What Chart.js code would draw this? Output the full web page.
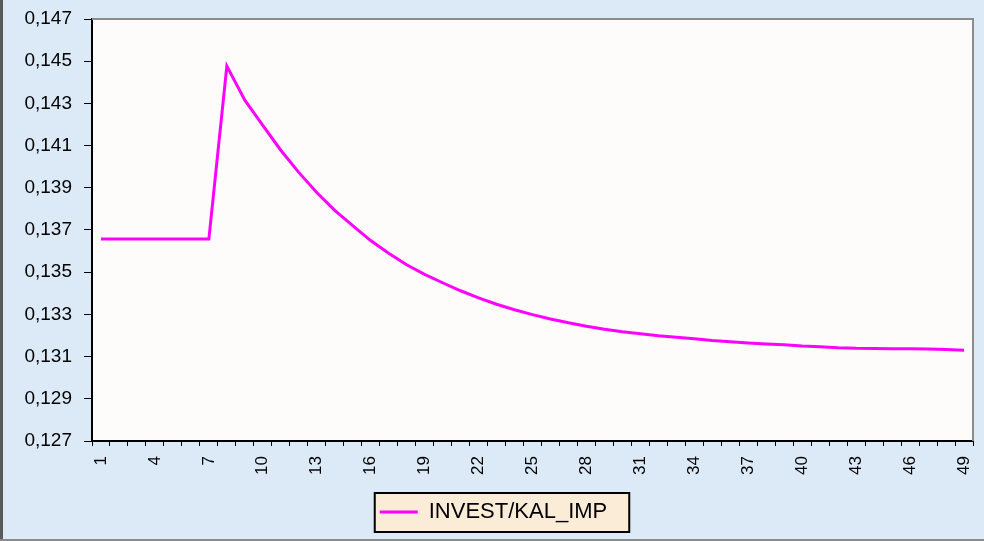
<!DOCTYPE html>
<html>
<head>
<meta charset="utf-8">
<script src="https://cdn.jsdelivr.net/npm/chart.js@4/dist/chart.umd.min.js"></script>
<style>
  html, body { margin: 0; padding: 0; background: #dceaf8; }
  #wrap { width: 984px; height: 541px; }
</style>
</head>
<body>
<div id="wrap"><canvas id="my_chart" width="984" height="541"></canvas></div>
<script>
// periods 1..49
const categories = [];
for (let i = 1; i <= 49; i++) categories.push(String(i));

// INVEST/KAL_IMP series
const investKalImp = [
  0.13657, 0.13657, 0.13657, 0.13657, 0.13657, 0.13657, 0.13657,
  0.14477, 0.14315, 0.14196, 0.14078, 0.13973, 0.13878, 0.13793,
  0.13721, 0.13650, 0.13590, 0.13535, 0.13490, 0.13450, 0.13412,
  0.13378, 0.13348, 0.13322, 0.13299, 0.13278, 0.13260, 0.13244,
  0.13230, 0.13218, 0.13208, 0.13199, 0.13192, 0.13185, 0.13176,
  0.13170, 0.13165, 0.13160, 0.13156, 0.13150, 0.13147, 0.13142,
  0.13139, 0.13138, 0.13137, 0.13137, 0.13136, 0.13134, 0.13130
];

// y axis tick values
const yTickValues = [0.127, 0.129, 0.131, 0.133, 0.135, 0.137, 0.139, 0.141, 0.143, 0.145, 0.147];

Chart.defaults.font.family = "'Liberation Sans', Arial, sans-serif";
Chart.defaults.color = '#000';

// background, plot area, frame and legend box
const decor = {
  id: 'decor',
  afterLayout(chart) {
    // legend sits a little right of centre in the original
    const lg = chart.legend, dx = 7;
    lg.left += dx; lg.right += dx;
    lg.legendHitBoxes.forEach(h => { h.left += dx; });
  },
  beforeDraw(chart) {
    const {ctx, chartArea: a, width, height} = chart;
    ctx.save();
    ctx.fillStyle = '#dceaf8';
    ctx.fillRect(0, 0, width, height);
    ctx.fillStyle = '#fdfcfb';
    ctx.fillRect(a.left, a.top, a.right - a.left, a.bottom - a.top);
    // legend box
    const h = chart.legend.legendHitBoxes[0];
    if (h) {
      const x0 = h.left - 5, y0 = h.top - 8;
      const w = h.width + 27, hh = h.height + 17;
      ctx.fillStyle = '#fbecd8';
      ctx.fillRect(x0, y0, w, hh);
      ctx.strokeStyle = '#000';
      ctx.lineWidth = 2;
      ctx.strokeRect(x0, y0, w, hh);
    }
    // outer frame edges
    ctx.fillStyle = '#5a5a5a';
    ctx.fillRect(0, 0, 3, height);
    ctx.fillStyle = '#8a8a8a';
    ctx.fillRect(0, height - 2, width, 2);
    ctx.restore();
  },
  afterDraw(chart) {
    const {ctx, chartArea: a} = chart;
    ctx.save();
    ctx.strokeStyle = '#8c8c8c';
    ctx.lineWidth = 2;
    ctx.beginPath();
    ctx.moveTo(a.left, a.top);
    ctx.lineTo(a.right, a.top);
    ctx.lineTo(a.right, a.bottom);
    ctx.stroke();
    ctx.restore();
  }
};

const ctx = document.getElementById('my_chart').getContext('2d');
new Chart(ctx, {
  type: 'line',
  data: {
    labels: categories,
    datasets: [{
      label: 'INVEST/KAL_IMP',
      data: investKalImp,
      borderColor: '#ff00ff',
      backgroundColor: '#ff00ff',
      borderWidth: 3,
      pointRadius: 0,
      tension: 0,
      fill: false
    }]
  },
  options: {
    responsive: false,
    animation: false,
    layout: { padding: { top: 19, right: 11, left: 0, bottom: 8 } },
    plugins: {
      tooltip: { enabled: false },
      legend: {
        position: 'bottom',
        labels: {
          usePointStyle: true,
          pointStyle: 'line',
          pointStyleWidth: 38,
          padding: 8,
          font: { size: 22 },
          color: '#000'
        }
      }
    },
    scales: {
      x: {
        type: 'category',
        offset: true,
        grid: { offset: true, drawOnChartArea: false, drawTicks: true, tickLength: 5, color: '#000' },
        border: { display: true, color: '#000', width: 2 },
        ticks: {
          autoSkip: false,
          maxRotation: 90,
          minRotation: 90,
          padding: 10,
          font: { size: 17 },
          color: '#000',
          callback: (v, i) => (i % 3 === 0 ? categories[i] : '')
        },
        afterFit: s => { s.height = 52; s.paddingLeft = 0; s.paddingRight = 0; }
      },
      y: {
        min: 0.127,
        max: 0.147,
        grid: { drawOnChartArea: false, drawTicks: true, tickLength: 8, color: '#000' },
        border: { display: true, color: '#000', width: 2 },
        afterBuildTicks: s => { s.ticks = yTickValues.map(v => ({ value: v })); },
        ticks: {
          padding: 12,
          font: { size: 19 },
          color: '#000',
          callback: v => v.toFixed(3).replace('.', ',')
        },
        afterFit: s => { s.width = 92; s.paddingTop = 0; s.paddingBottom = 0; }
      }
    }
  },
  plugins: [decor]
});
</script>
</body>
</html>
